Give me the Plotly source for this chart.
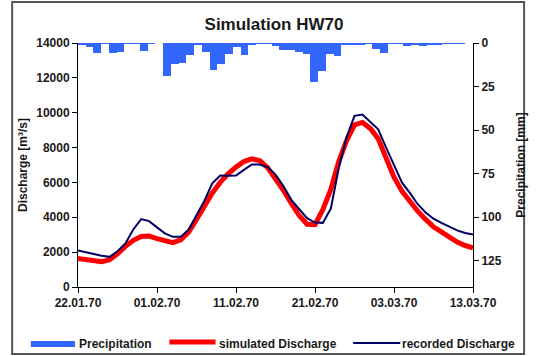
import pandas as pd
import plotly.graph_objects as go

# ---- data -------------------------------------------------------------
dates = pd.date_range("1970-01-22", "1970-03-13", freq="D")

precipitation_mm = [
    1.2, 2.3, 5.7, 0.3, 5.7, 5.0, 0.4, 0.4, 4.4, 0.4,
    0.0, 19.0, 11.8, 11.7, 7.0, 0.6, 4.9, 15.5, 12.0, 6.3,
    2.5, 6.8, 0.9, 0.2, 0.2, 2.0, 3.9, 4.2, 5.1, 6.1,
    22.3, 16.2, 6.2, 7.6, 1.2, 0.7, 1.4, 0.4, 3.2, 5.7,
    0.4, 0.4, 1.6, 1.4, 1.8, 1.4, 0.9, 0.5, 0.4, 0.2, 0.0,
]

simulated_discharge = [
    1640, 1560, 1490, 1450, 1560, 1900, 2330, 2680, 2900, 2920,
    2780, 2650, 2540, 2700, 3150, 3870, 4650, 5400, 6000, 6500,
    6880, 7200, 7350, 7250, 6850, 6250, 5550, 4800, 4100, 3600,
    3580, 4450, 5600, 7200, 8400, 9300, 9440, 9100, 8500, 7400,
    6300, 5500, 4920, 4350, 3880, 3450, 3160, 2850, 2580, 2380, 2250,
]

recorded_discharge = [
    2090, 1990, 1880, 1790, 1730, 2050, 2500, 3300, 3900, 3780,
    3420, 3080, 2880, 2880, 3280, 4160, 4950, 5950, 6400, 6380,
    6400, 6720, 7030, 7030, 6880, 6450, 5800, 5000, 4450, 3950,
    3700, 3680, 4500, 6800, 8600, 9820, 9900, 9480, 9050, 8000,
    7050, 6000, 5400, 4750, 4280, 3920, 3680, 3450, 3250, 3100, 3010,
]

discharge_ticks = [0, 2000, 4000, 6000, 8000, 10000, 12000, 14000]
precip_ticks = [0, 25, 50, 75, 100, 125]

# ---- layout geometry (pixels) ----------------------------------------
W, H = 537, 356
ML, MR, MT, MB = 78, 57, 43, 69
PW, PH = W - ML - MR, H - MT - MB


def px(x):
    return (x - ML) / PW


def py(y):
    return (H - MB - y) / PH


FONT = "Liberation Sans, Arial, sans-serif"
TXT = "#1a1a1a"

fig = go.Figure()

fig.add_trace(go.Bar(
    x=list(range(len(precipitation_mm))), y=precipitation_mm,
    xaxis="x2", yaxis="y2", width=1.0,
    marker=dict(color="#3366FF", line=dict(width=0)),
    name="Precipitation", showlegend=False,
))
fig.add_trace(go.Scatter(
    x=dates, y=simulated_discharge, mode="lines",
    line=dict(color="#FF0000", width=5),
    name="simulated Discharge", showlegend=False,
))
fig.add_trace(go.Scatter(
    x=dates, y=recorded_discharge, mode="lines",
    line=dict(color="#000066", width=2),
    name="recorded Discharge", showlegend=False,
))

tickfont = dict(family=FONT, size=12, color=TXT, weight="bold")

fig.update_layout(
    width=W, height=H,
    margin=dict(l=ML, r=MR, t=MT, b=MB, pad=0),
    paper_bgcolor="white", plot_bgcolor="white",
    bargap=0,
    title=dict(text="Simulation HW70", x=274 / W, xref="container",
               y=1 - 24 / H, yref="container", xanchor="center", yanchor="middle",
               font=dict(family=FONT, size=17, color=TXT, weight="bold")),
    xaxis=dict(
        type="date", range=["1970-01-22", "1970-03-13"],
        tick0="1970-01-22", dtick=10 * 86400000, tickformat="%d.%m.%y",
        showgrid=False, zeroline=False, showline=True, linecolor="black", linewidth=1,
        ticks="outside", ticklen=5, tickcolor="black", tickfont=tickfont,
    ),
    yaxis=dict(
        range=[0, 14000], tickvals=discharge_ticks, tickformat="d",
        showgrid=False, zeroline=False, showline=True, linecolor="black", linewidth=1,
        ticks="outside", ticklen=5, tickcolor="black", tickfont=tickfont,
        title=dict(text="Discharge [m³/s]", standoff=6,
                   font=dict(family=FONT, size=12, color=TXT, weight="bold")),
    ),
    xaxis2=dict(overlaying="x", range=[-0.5, 50.5], visible=False),
    yaxis2=dict(
        overlaying="y", side="right", anchor="x2", range=[140, 0], tickvals=precip_ticks,
        showgrid=False, zeroline=False, showline=True, linecolor="black", linewidth=1,
        ticks="outside", ticklen=5, tickcolor="black", tickfont=tickfont,
        title=dict(text="Precipitation [mm]", standoff=15,
                   font=dict(family=FONT, size=12, color=TXT, weight="bold")),
    ),
)

# outer frame
fig.add_shape(type="rect", xref="paper", yref="paper",
              x0=px(11), x1=px(532), y0=py(354), y1=py(2),
              line=dict(color="#555555", width=2), fillcolor="rgba(0,0,0,0)")

# legend row
fig.add_shape(type="rect", xref="paper", yref="paper",
              x0=px(30), x1=px(75), y0=py(347), y1=py(341),
              line=dict(width=0), fillcolor="#3366FF")
fig.add_shape(type="line", xref="paper", yref="paper",
              x0=px(171), x1=px(218), y0=py(342), y1=py(342),
              line=dict(color="#FF0000", width=5))
fig.add_shape(type="line", xref="paper", yref="paper",
              x0=px(358), x1=px(406), y0=py(343), y1=py(343),
              line=dict(color="#000066", width=2))

legend_font = dict(family=FONT, size=12, color=TXT, weight="bold")
for label, x in [("Precipitation", 77), ("simulated Discharge", 219), ("recorded Discharge", 406)]:
    fig.add_annotation(text=label, xref="paper", yref="paper", x=px(x), y=py(343.5),
                       xanchor="left", yanchor="middle", showarrow=False,
                       font=legend_font)

fig.write_html("out.html")
